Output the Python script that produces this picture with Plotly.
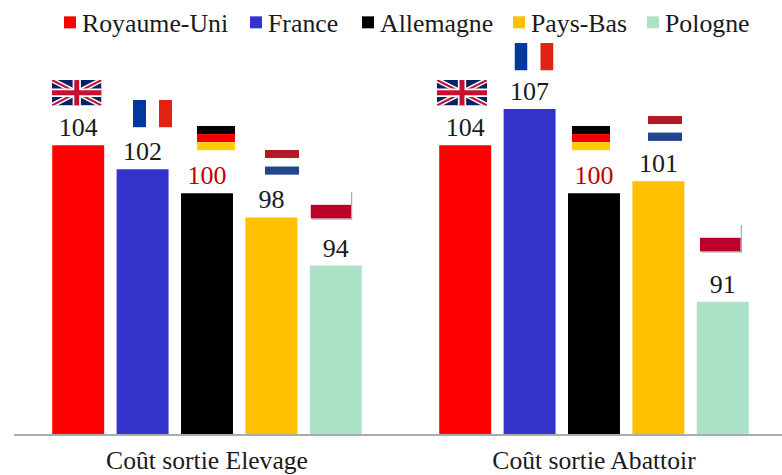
import base64
import plotly.graph_objects as go

categories = ["Coût sortie Elevage", "Coût sortie Abattoir"]
royaume_uni = [104, 104]
france = [102, 107]
allemagne = [100, 100]
pays_bas = [98, 101]
pologne = [94, 91]

series_names = ["Royaume-Uni", "France", "Allemagne", "Pays-Bas", "Pologne"]
series_values = [royaume_uni, france, allemagne, pays_bas, pologne]
series_colors = ["#FF0000", "#3333CC", "#000000", "#FFC000", "#ABE3C9"]
label_colors = ["#1a1a1a", "#1a1a1a", "#C00000", "#1a1a1a", "#1a1a1a"]
legend_left_px = [42, 228, 340, 491, 625]

FONT = "Liberation Serif"
W, H = 782, 475
L, R, T, B = 14, 0, 73, 40.5

UK = '''<svg xmlns="http://www.w3.org/2000/svg" viewBox="0 0 60 30" preserveAspectRatio="none"><rect width="60" height="30" fill="#012169"/><path d="M0,0L60,30M60,0L0,30" stroke="#fff" stroke-width="6"/><path d="M0,0L60,30M60,0L0,30" stroke="#C8102E" stroke-width="2.4"/><path d="M30,0V30M0,15H60" stroke="#fff" stroke-width="10"/><path d="M30,0V30M0,15H60" stroke="#C8102E" stroke-width="6"/></svg>'''
FR = '''<svg xmlns="http://www.w3.org/2000/svg" viewBox="0 0 3 2" preserveAspectRatio="none"><rect width="1" height="2" fill="#0038A0"/><rect x="1" width="1" height="2" fill="#fff"/><rect x="2" width="1" height="2" fill="#E12313"/></svg>'''
DE = '''<svg xmlns="http://www.w3.org/2000/svg" viewBox="0 0 3 3" preserveAspectRatio="none"><rect width="3" height="1" fill="#000"/><rect y="1" width="3" height="1" fill="#F00000"/><rect y="2" width="3" height="1" fill="#FFCC00"/></svg>'''
NL = '''<svg xmlns="http://www.w3.org/2000/svg" viewBox="0 0 3 3" preserveAspectRatio="none"><rect width="3" height="1" fill="#AE1C28"/><rect y="1" width="3" height="1" fill="#fff"/><rect y="2" width="3" height="1" fill="#21468B"/></svg>'''
PL = '''<svg xmlns="http://www.w3.org/2000/svg" viewBox="0 0 42 28" preserveAspectRatio="none"><rect x="40.5" y="0" width="1.5" height="28" fill="#aaa"/><rect x="1" y="26.5" width="41" height="1.5" fill="#aaa"/><rect width="40.5" height="13" fill="#fff"/><rect y="13" width="40.5" height="13.5" fill="#BC0029"/></svg>'''

flag_boxes = [
    (UK, 52, 80, 49.5, 25.5), (FR, 133, 100, 39, 27.5), (DE, 197, 126, 38, 24.5),
    (NL, 265, 150, 34, 25), (PL, 310.5, 192, 42, 28),
    (UK, 437, 80, 50, 25.5), (FR, 514.5, 43, 39, 27.5), (DE, 572, 126, 38, 24.5),
    (NL, 648, 116, 34, 25), (PL, 700, 225, 42, 28),
]

def px_x(p):
    return (p - L) / (W - L - R)

def px_y(p):
    return 1 - (p - T) / (H - T - B)

images = []
for svg, x, y, w, h in flag_boxes:
    uri = "data:image/svg+xml;base64," + base64.b64encode(svg.encode()).decode()
    images.append(dict(source=uri, xref="paper", yref="paper", x=px_x(x), y=px_y(y),
                       sizex=w / (W - L - R), sizey=h / (H - T - B),
                       xanchor="left", yanchor="top", sizing="stretch", layer="above"))

fig = go.Figure()
legends = {}
for i, (name, vals, col, lab, lx) in enumerate(zip(series_names, series_values, series_colors,
                                                   label_colors, legend_left_px)):
    key = "legend" if i == 0 else f"legend{i + 1}"
    fig.add_trace(go.Bar(
        name=name, x=categories, y=vals, marker=dict(color=col, line=dict(width=0)),
        text=[str(v) for v in vals], textposition="outside", cliponaxis=False,
        textfont=dict(family=FONT, size=26, color=lab), legend=key, showlegend=True,
    ))
    legends[key] = dict(orientation="h", x=px_x(lx), y=px_y(22.5), xanchor="left", yanchor="middle",
                        font=dict(family=FONT, size=25.8, color="#1a1a1a"),
                        bgcolor="rgba(0,0,0,0)")

fig.update_layout(
    width=W, height=H, margin=dict(l=L, r=R, t=T, b=B, pad=0, autoexpand=False),
    paper_bgcolor="white", plot_bgcolor="white",
    barmode="group", bargap=0.168, bargroupgap=0.193,
    images=images,
    xaxis=dict(range=[-0.4987, 1.4858], showgrid=False, showline=True, linecolor="#ABABAB",
               automargin=False,
               linewidth=1.5, ticks="", tickfont=dict(family=FONT, size=25.6, color="#1a1a1a"), ticklabelstandoff=3),
    yaxis=dict(range=[80, 110], visible=False, showgrid=False, zeroline=False),
    **legends,
)
post = """document.body.style.margin='0';
document.querySelectorAll('.legendsymbols').forEach(function(g){g.setAttribute('transform','translate(8,0)');});"""
fig.write_html("out.html", config=dict(displayModeBar=False), post_script=post)
